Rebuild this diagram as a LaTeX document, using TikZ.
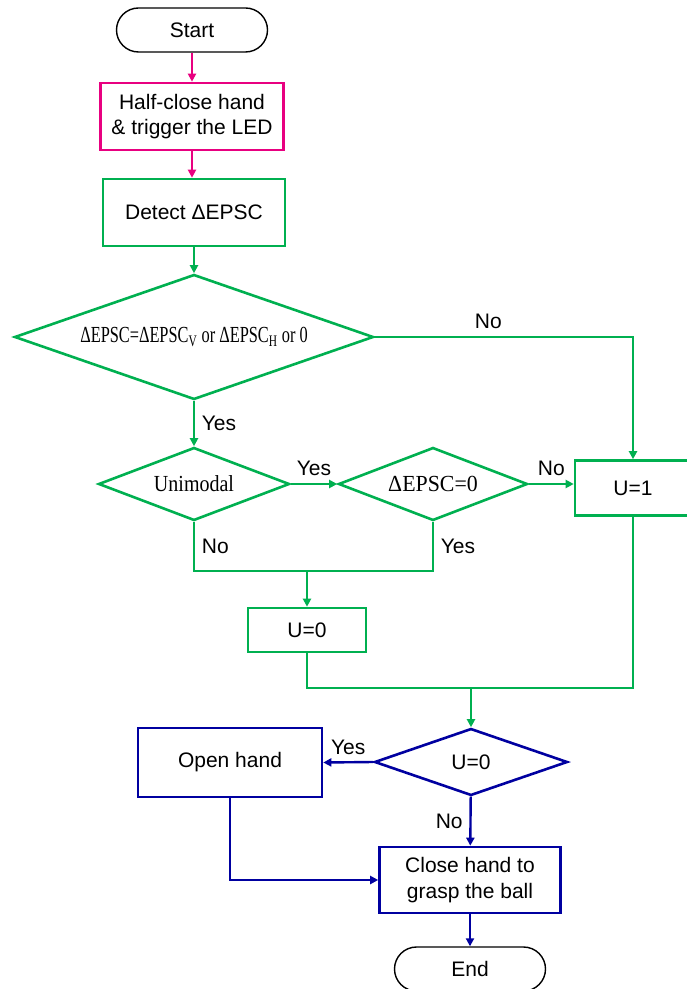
\documentclass[tikz,border=0pt]{standalone}
\usepackage{fontspec}
\setmainfont{Liberation Sans}
\newfontfamily\serifface{Liberation Serif}
\usetikzlibrary{shapes.geometric, arrows.meta, positioning, calc}
\definecolor{ledpink}{RGB}{232,0,128}
\definecolor{sensegreen}{RGB}{0,176,80}
\definecolor{handblue}{RGB}{0,0,160}

\begin{document}
\begin{tikzpicture}[
    x=0.5pt, y=-0.5pt,
    font=\fontsize{10.5}{12.6}\selectfont,
    term/.style={draw, line width=0.7pt, rounded corners=11pt, minimum width=75.5pt, minimum height=22pt},
    stepbox/.style={draw, line width=1.3pt, align=center, inner sep=0pt},
    decide/.style={draw, diamond, line width=1.3pt, inner sep=0pt, font=\serifface\fontsize{11.5}{13}\selectfont},
    arrow/.style={-{Triangle[length=4pt, width=4pt]}, line width=1.2pt},
    link/.style={line width=1.2pt}
]
    \useasboundingbox (0,0) rectangle (686,989);

    % pink part
    \node[term] (start) at (192,30) {Start};
    \node[stepbox, draw=ledpink, minimum width=91.5pt, minimum height=33.5pt] (half) at (192,116.5) {Half-close hand\\\& trigger the LED};

    % green part
    \node[stepbox, draw=sensegreen, minimum width=91pt, minimum height=33.5pt] (detect) at (194,212.5) {Detect ΔEPSC};
    \node[decide, draw=sensegreen, aspect=2.87, minimum width=179.5pt, minimum height=62.5pt] (check) at (194,337)
        {\scalebox{0.71}[1]{ΔEPSC=ΔEPSC\textsubscript{V} or ΔEPSC\textsubscript{H} or 0}};
    \node[decide, draw=sensegreen, aspect=2.6, minimum width=95.5pt, minimum height=36.5pt] (uni) at (194,484) {\scalebox{0.87}[1]{Unimodal}};
    \node[decide, draw=sensegreen, aspect=2.6, minimum width=94.5pt, minimum height=36.5pt] (zero) at (433,484) {\scalebox{0.95}[1]{ΔEPSC=0}};
    \node[stepbox, draw=sensegreen, minimum width=58pt, minimum height=27.5pt] (uone) at (633,488) {U=1};
    \node[stepbox, draw=sensegreen, minimum width=59pt, minimum height=22pt] (uzero) at (307,630) {U=0};
    \coordinate (join) at (307,571);
    \coordinate (merge) at (471,688);

    % blue part
    \node[decide, draw=handblue, aspect=2.9, minimum width=96.5pt, minimum height=33.5pt, font=\fontsize{10.5}{12.6}\selectfont] (test) at (471,762) {U=0};
    \node[stepbox, draw=handblue, minimum width=92pt, minimum height=34.5pt] (open) at (230,762.5) {Open hand};
    \node[stepbox, draw=handblue, minimum width=90.5pt, minimum height=33pt] (close) at (470,880) {Close hand to\\grasp the ball};
    \node[term] (end) at (470,969) {End};

    \draw[arrow, draw=ledpink] (start) -- (half);
    \draw[arrow, draw=ledpink] (half.south) -- (half.south |- detect.north);
    \draw[arrow, draw=sensegreen] (detect) -- (check);
    \draw[arrow, draw=sensegreen] (check.east) -| node[above, pos=0.22] {No} (uone.north);
    \draw[arrow, draw=sensegreen] (check.south) -- node[right] {Yes} (uni.north);
    \draw[arrow, draw=sensegreen] (uni.east) -- node[above] {Yes} (zero.west);
    \draw[arrow, draw=sensegreen] (zero.east) -- node[above] {No} (zero.east -| uone.west);
    \draw[link, draw=sensegreen] (uni.south) -- node[right] {No} (uni.south |- join) -- (zero.south |- join) -- node[right] {Yes} (zero.south);
    \draw[arrow, draw=sensegreen] (join) -- (uzero);
    \draw[link, draw=sensegreen] (uzero.south) |- (merge) -| (uone.south);
    \draw[arrow, draw=sensegreen] (merge) -- (test);

    \draw[arrow, draw=handblue] (test.west) -- node[above] {Yes} (open.east);
    \draw[arrow, draw=handblue] (test) -- node[left] {No} (close);
    \draw[arrow, draw=handblue] (open.south) |- (close.west);
    \draw[arrow, draw=handblue] (close) -- (end);
\end{tikzpicture}
\end{document}
